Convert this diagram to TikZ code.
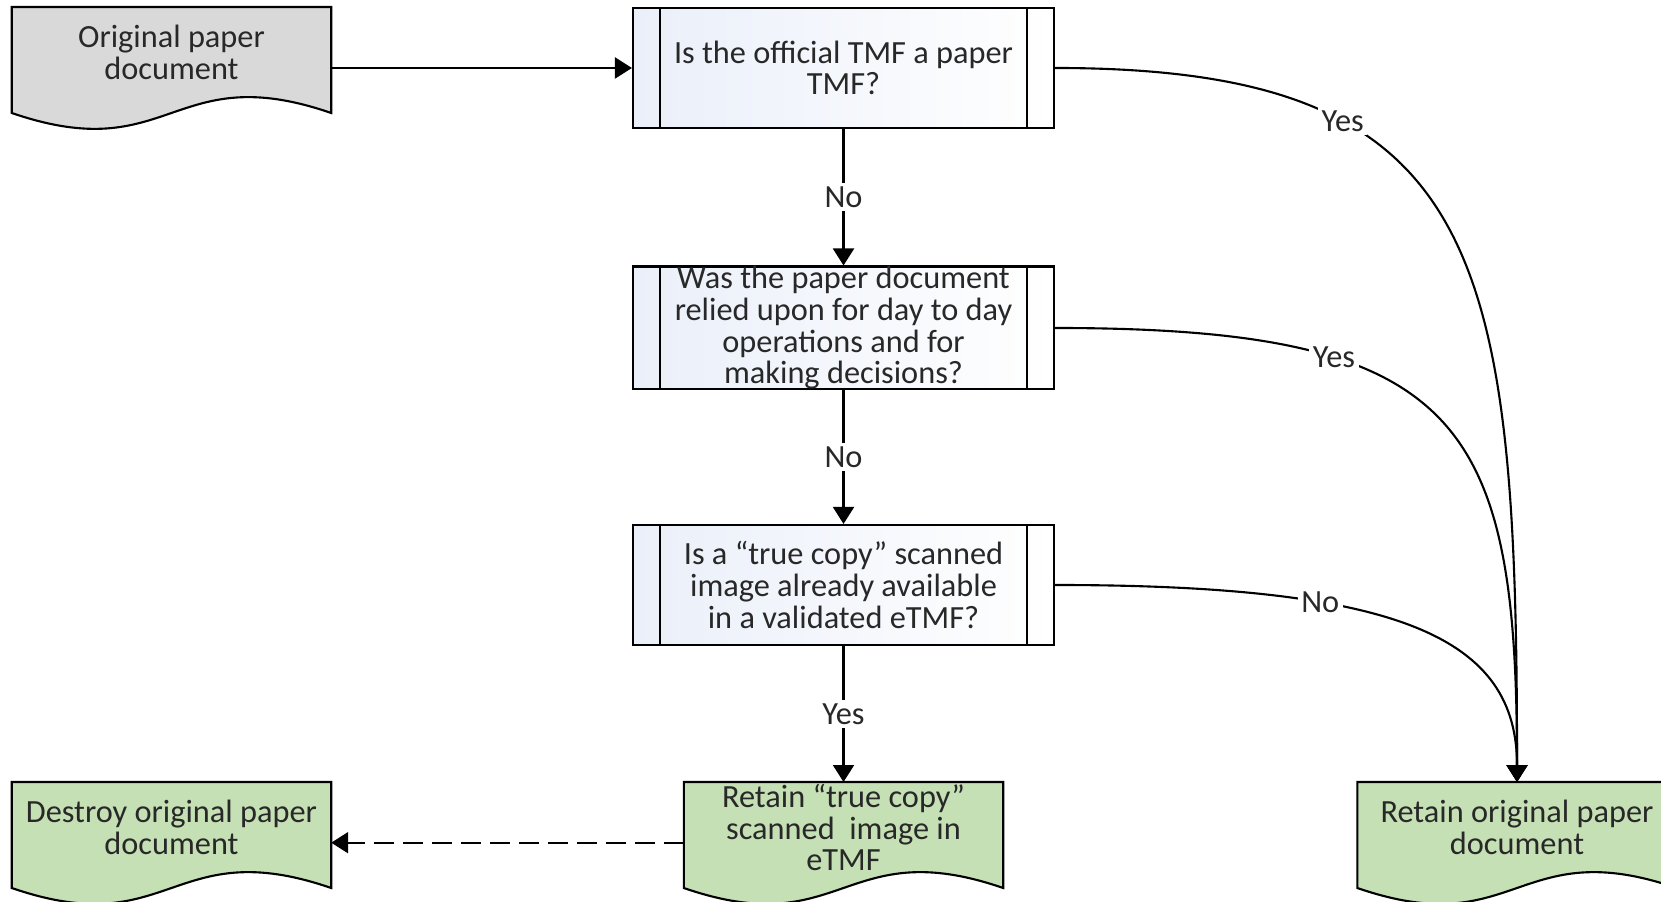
\documentclass[tikz,border=0pt]{standalone}
\usepackage{fontspec}
\setmainfont{Carlito}
\usetikzlibrary{arrows.meta,positioning,calc,backgrounds}
\definecolor{docgray}{RGB}{217,217,217}
\definecolor{docgreen}{RGB}{197,224,180}
\definecolor{boxblue}{RGB}{234,239,249}
\definecolor{txtgray}{RGB}{40,40,40}
\newcommand{\flowfont}{\fontsize{9.2pt}{9pt}\selectfont}
% paper outline with wavy bottom, drawn behind a doc node
\newcommand{\docoutline}[2]{%
  \begin{scope}[on background layer]
    \draw[line width=0.6pt, fill=#2] (#1.north west) -- (#1.north east)
      -- ($(#1.north east)+(0,-1.06)$)
      .. controls ($(#1.north)+(0,-0.51)$) and ($(#1.north)+(0,-1.61)$) .. ($(#1.north west)+(0,-1.06)$)
      -- cycle;
  \end{scope}}

\begin{document}
\begin{tikzpicture}[
    every node/.style={font=\flowfont, text=txtgray},
    doc/.style={anchor=north, minimum width=3.18cm, minimum height=0.9cm, inner sep=0pt, align=center},
    decide/.style={draw, line width=0.6pt, left color=boxblue, right color=white,
      minimum width=4.21cm, minimum height=1.2cm, inner sep=0pt, align=center,
      path picture={
        \draw[line width=0.6pt] ([xshift=0.27cm]path picture bounding box.north west) -- ([xshift=0.27cm]path picture bounding box.south west);
        \draw[line width=0.6pt] ([xshift=-0.27cm]path picture bounding box.north east) -- ([xshift=-0.27cm]path picture bounding box.south east);}},
    arr/.style={line width=0.6pt, -{Triangle[length=0.17cm,width=0.21cm]}},
    ans/.style={fill=white, inner sep=1pt}
  ]
    \useasboundingbox (0,0) rectangle (16.61,9.01);

    % documents
    \node[doc] (orig) at (1.715,8.94) {Original paper\\document};
    \docoutline{orig}{docgray}
    \node[doc] (destroy) at (1.715,1.19) {Destroy original paper\\document};
    \docoutline{destroy}{docgreen}
    \node[doc] (copy) at (8.435,1.19) {Retain “true copy”\\scanned\ \ image in\\eTMF};
    \docoutline{copy}{docgreen}
    \node[doc] (keep) at (15.17,1.19) {Retain original paper\\document};
    \docoutline{keep}{docgreen}

    % questions
    \node[decide] (dec1) at (8.435,8.33) {Is the official TMF a paper\\TMF?};
    \node[decide] (dec2) at (8.435,5.73) {Was the paper document\\relied upon for day to day\\operations and for\\making decisions?};
    \node[decide] (dec3) at (8.435,3.16) {Is a “true copy” scanned\\image already available\\in a validated eTMF?};

    % flow
    \draw[arr] (orig.east |- dec1.west) -- (dec1.west);
    \draw[arr] (dec1) -- node[ans] {No} (dec2);
    \draw[arr] (dec2) -- node[ans] {No} (dec3);
    \draw[arr] (dec3) -- node[ans] {Yes} (copy);
    \draw[arr, dash pattern=on 0.2cm off 0.09cm] ([yshift=-0.15cm]copy.west) -- ([yshift=-0.15cm]destroy.east);

    \draw[arr] (dec1.east) .. controls +(4.26,0) and +(0,5.34) .. (keep.north) node[ans, pos=0.3] {Yes};
    \draw[arr] (dec2.east) .. controls +(4.06,0) and +(0,3.62) .. (keep.north) node[ans, pos=0.3] {Yes};
    \draw[arr] (dec3.east) .. controls +(3.46,0) and +(0,1.44) .. (keep.north) node[ans, pos=0.32] {No};
\end{tikzpicture}
\end{document}
